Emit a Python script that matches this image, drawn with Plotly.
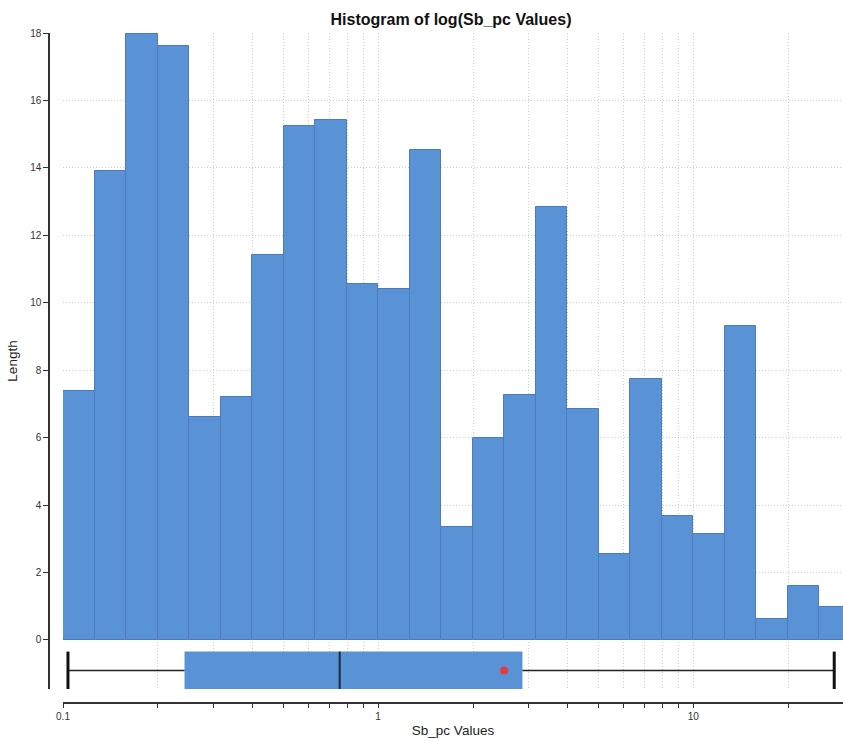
import plotly.graph_objects as go

# ---- data ----
bin_edges_log10 = [-1.0, -0.9, -0.8, -0.7, -0.6, -0.5, -0.4, -0.3, -0.2, -0.1,
                   0.0, 0.1, 0.2, 0.3, 0.4, 0.5, 0.6, 0.7, 0.8, 0.9,
                   1.0, 1.1, 1.2, 1.3, 1.4, 1.5]
bar_heights = [7.37, 13.92, 17.98, 17.6, 6.61, 7.21, 11.42, 15.25, 15.43, 10.56,
               10.42, 14.52, 3.35, 5.99, 7.27, 12.85, 6.85, 2.55, 7.74, 3.69,
               3.14, 9.30, 0.61, 1.61, 0.97]

box_min = 0.1037
box_q1 = 0.243
box_median = 0.755
box_q3 = 2.87
box_max = 28.0
box_mean = 2.51
box_center = -0.905
box_half = 0.56

x_tickvals = [0.1, 0.2, 0.3, 0.4, 0.5, 0.6, 0.7, 0.8, 0.9,
              1, 2, 3, 4, 5, 6, 7, 8, 9,
              10, 20, 30]
x_ticktext = ["0.1", "", "", "", "", "", "", "", "",
              "1", "", "", "", "", "", "", "", "",
              "10", "", ""]
y_tickvals = [0, 2, 4, 6, 8, 10, 12, 14, 16, 18]

BLUE = "#5a92d6"
EDGE = "#4a7cbf"
FONT = "Liberation Sans, Arial, Helvetica, sans-serif"

centers = [(bin_edges_log10[i] + bin_edges_log10[i + 1]) / 2 for i in range(len(bar_heights))]
widths = [bin_edges_log10[i + 1] - bin_edges_log10[i] for i in range(len(bar_heights))]

fig = go.Figure()

# histogram bars (on hidden linear axis in log10 units)
fig.add_trace(go.Bar(x=centers, y=bar_heights, width=widths, xaxis="x2", yaxis="y",
                     marker=dict(color=BLUE, line=dict(color=EDGE, width=1)),
                     hoverinfo="y", showlegend=False))

y0 = box_center - box_half
y1 = box_center + box_half
# box body
fig.add_trace(go.Scatter(x=[box_q1, box_q3, box_q3, box_q1, box_q1],
                         y=[y0, y0, y1, y1, y0], mode="lines", fill="toself",
                         fillcolor=BLUE, line=dict(width=0, color=BLUE),
                         showlegend=False, hoverinfo="skip"))
# whiskers
fig.add_trace(go.Scatter(x=[box_min, box_q1, None, box_q3, box_max],
                         y=[box_center, box_center, None, box_center, box_center],
                         mode="lines", line=dict(color="#222222", width=1.5),
                         showlegend=False, hoverinfo="skip"))
# caps
fig.add_trace(go.Scatter(x=[box_min, box_min, None, box_max, box_max],
                         y=[y0, y1, None, y0, y1],
                         mode="lines", line=dict(color="#111111", width=3),
                         showlegend=False, hoverinfo="skip"))
# median
fig.add_trace(go.Scatter(x=[box_median, box_median], y=[y0, y1],
                         mode="lines", line=dict(color="#1b2a44", width=2),
                         showlegend=False, hoverinfo="skip"))
# mean
fig.add_trace(go.Scatter(x=[box_mean], y=[box_center], mode="markers",
                         marker=dict(color="#e8393f", size=8),
                         showlegend=False, hoverinfo="skip"))

W, H = 843, 744
ml, mr, mt, mb = 49, 0, 33, 41
pw = W - ml - mr
ph = H - mt - mb
xd0 = 14 / pw
yd0 = 14 / ph
xr = [-1.0, 1.475]

grid = dict(showgrid=True, gridcolor="#cdcdcd", griddash="1px,2px", gridwidth=1)

fig.update_layout(
    width=W, height=H,
    margin=dict(l=ml, r=mr, t=mt, b=mb, autoexpand=False),
    paper_bgcolor="white", plot_bgcolor="white",
    font=dict(family=FONT, size=10, color="#333333"),
    bargap=0,
    title=dict(text="<b>Histogram of log(Sb_pc Values)</b>",
               font=dict(family=FONT, size=16, color="#111111"),
               x=(451 - ml) / pw, xref="paper", xanchor="center",
               y=1 - 19 / H, yref="container", yanchor="middle"),
    xaxis=dict(type="log", range=xr, domain=[xd0, 1], anchor="free", position=0,
               tickvals=x_tickvals, ticktext=x_ticktext,
               ticks="outside", ticklen=4, tickcolor="#333333",
               showline=True, linecolor="#333333", linewidth=1.5,
               zeroline=False,
               title=dict(text="Sb_pc Values", font=dict(size=13.5, color="#222222"), standoff=4),
               **grid),
    xaxis2=dict(range=xr, domain=[xd0, 1], overlaying="x", anchor="y",
                visible=False, showgrid=False),
    yaxis=dict(range=[-1.454, 18.0], domain=[yd0, 1], anchor="free", position=0,
               tickvals=y_tickvals, ticks="outside", ticklen=5, tickcolor="#333333",
               showline=True, linecolor="#333333", linewidth=1.5,
               zeroline=False,
               title=dict(text="Length", font=dict(size=13.5, color="#222222"), standoff=8),
               **grid),
)

fig.write_html("out.html", config={"displayModeBar": False},
               post_script="document.body.style.margin='0';document.body.style.overflow='hidden';")
